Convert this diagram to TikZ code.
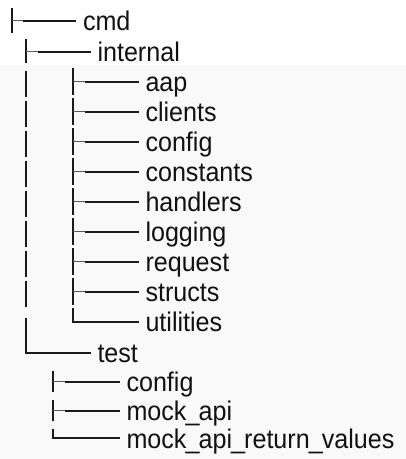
\documentclass[tikz,border=0pt]{standalone}
\usepackage{fontspec}
\usepackage{graphicx}
\setmainfont{Liberation Sans}
\definecolor{ink}{HTML}{1A1A1A}
\definecolor{textink}{HTML}{111111}
\definecolor{stubink}{HTML}{5A5A5A}
\definecolor{paper}{HTML}{F9F9F9}
% slightly condensed labels, with tighter underscores
\newcommand{\lbl}[1]{\scalebox{0.93}[1]{#1}}
\newcommand{\us}{\kern-1pt\_\kern-1pt}
\tikzset{
  entry/.style={anchor=west, inner sep=0pt, outer sep=0pt, text=textink,
    font=\fontsize{27}{27}\selectfont, text height=24pt, text depth=4pt},
  trunk/.style={draw=ink, line width=1.9pt},
  stub/.style={draw=stubink, line width=1.2pt},
  arm/.style={draw=ink, line width=1.6pt, shorten >=7pt},
}
\begin{document}
\begin{tikzpicture}[x=1pt, y=-1pt]
  \useasboundingbox (0,0) rectangle (406,459);
  \fill[paper] (0,65) rectangle (406,459);

  % trunk columns
  \coordinate (t0) at (12.3,0);
  \coordinate (t1) at (26,0);
  \coordinate (t2) at (73.3,0);
  \coordinate (t3) at (53.3,0);

  % entries
  \node[entry] (cmd)       at (83,20.7)    {\lbl{cmd}};
  \node[entry] (internal)  at (97.5,51.7)  {\lbl{internal}};
  \node[entry] (aap)       at (145.5,81.7) {\lbl{aap}};
  \node[entry] (clients)   at (145.5,111.7){\lbl{clients}};
  \node[entry] (config)    at (145.5,141.7){\lbl{config}};
  \node[entry] (constants) at (145.5,171.7){\lbl{constants}};
  \node[entry] (handlers)  at (145.5,201.7){\lbl{handlers}};
  \node[entry] (logging)   at (145.5,231.7){\lbl{logging}};
  \node[entry] (request)   at (145.5,261.7){\lbl{request}};
  \node[entry] (structs)   at (145.5,291.7){\lbl{structs}};
  \node[entry] (utilities) at (145.5,321.7){\lbl{utilities}};
  \node[entry] (test)      at (97.5,352.7) {\lbl{test}};
  \node[entry] (tconfig)   at (126.5,381.7){\lbl{config}};
  \node[entry] (mockapi)   at (126.5,410.7){\lbl{mock\us api}};
  \node[entry] (mockret)   at (126.5,438.1){\lbl{mock\us api\us return\us values}};

  % root tee
  \draw[trunk] (t0 |- cmd.west) ++(0,-13) -- ++(0,25);
  \draw[stub] (t0 |- cmd.west) -- ++(11,0);
  \draw[arm] ([xshift=11pt]t0 |- cmd.west) -- (cmd.west);

  % children of cmd
  \draw[trunk] (t1 |- internal.west) ++(0,-13) -- ++(0,24);
  \foreach \n in {aap,clients,config,constants,handlers,logging,request,structs}
    \draw[trunk] (t1 |- \n.west) ++(0,-11) -- ++(0,26);
  \draw[trunk] (t1 |- utilities.west) ++(0,-4) -- (t1 |- test.west) -- ++(1,0);
  \draw[stub] (t1 |- internal.west) -- ++(12,0);
  \draw[arm] ([xshift=12pt]t1 |- internal.west) -- (internal.west);
  \draw[arm, shorten <=-0.9pt] (t1 |- test.west) -- (test.west);

  % children of internal
  \foreach \n in {aap,clients,config,constants,handlers,logging,request,structs}{
    \draw[trunk] (t2 |- \n.west) ++(0,-13.3) -- ++(0,26.6);
    \draw[stub] (t2 |- \n.west) -- ++(12,0);
    \draw[arm] ([xshift=12pt]t2 |- \n.west) -- (\n.west);
  }
  \draw[trunk] (t2 |- utilities.west) ++(0,-14) -- (t2 |- utilities.west);
  \draw[arm, shorten <=-0.9pt] (t2 |- utilities.west) -- (utilities.west);

  % children of test
  \foreach \n in {tconfig,mockapi}{
    \draw[trunk] (t3 |- \n.west) ++(0,-11) -- ++(0,21);
    \draw[stub] (t3 |- \n.west) -- ++(12,0);
    \draw[arm] ([xshift=12pt]t3 |- \n.west) -- (\n.west);
  }
  \draw[trunk] (t3 |- mockret.west) ++(0,-9) -- (t3 |- mockret.west);
  \draw[arm, shorten <=-0.9pt] (t3 |- mockret.west) -- (mockret.west);
\end{tikzpicture}
\end{document}
